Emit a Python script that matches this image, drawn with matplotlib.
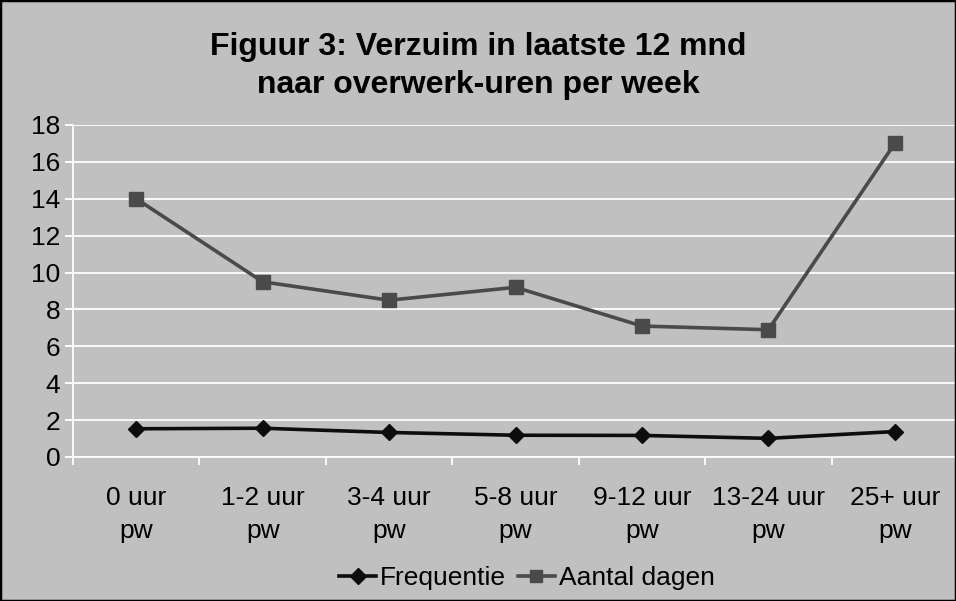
import matplotlib
matplotlib.use("Agg")
import matplotlib.pyplot as plt
from matplotlib.lines import Line2D
from matplotlib.patches import Rectangle

plt.rcParams['font.family'] = ['Liberation Sans', 'DejaVu Sans']

categories = ["0 uur\npw", "1-2 uur\npw", "3-4 uur\npw", "5-8 uur\npw",
              "9-12 uur\npw", "13-24 uur\npw", "25+ uur\npw"]
frequentie = [1.53, 1.56, 1.33, 1.18, 1.17, 1.01, 1.38]
aantal_dagen = [14.0, 9.5, 8.5, 9.2, 7.1, 6.9, 17.0]
yticks = list(range(0, 19, 2))

bg = "#c0c0c0"
W, H = 956, 601
fs = 19
fig = plt.figure(figsize=(W / 100, H / 100), dpi=100, facecolor=bg)
ax = fig.add_axes([73 / W, 1 - 457 / H, 885 / W, (457 - 125) / H], facecolor=bg)

x = list(range(len(categories)))
ax.plot(x, frequentie, color="#0d0d0d", lw=2.6, marker="D", ms=8,
        label="Frequentie", zorder=3, clip_on=False)
ax.plot(x, aantal_dagen, color="#4a4a4a", lw=2.6, marker="s", ms=10,
        label="Aantal dagen", zorder=3, clip_on=False)

ax.set_xlim(-0.5, len(categories) - 0.5)
ax.set_ylim(0, 18)
ax.set_yticks(yticks)
ax.set_yticklabels([str(v) for v in yticks], fontsize=fs)
ax.yaxis.grid(True, color="white", lw=1.3)
ax.set_axisbelow(True)

ax.set_xticks([i - 0.5 for i in range(len(categories) + 1)])
ax.set_xticklabels([])
ax.set_xticks(x, minor=True)
ax.set_xticklabels(categories, minor=True, fontsize=fs, linespacing=1.45)
ax.tick_params(axis="x", which="minor", length=0, pad=21)
ax.tick_params(axis="x", which="major", length=6, color="white", width=1.3, direction="out")
ax.tick_params(axis="y", length=6, color="white", width=1.3, pad=3)

for s in ["top", "right"]:
    ax.spines[s].set_visible(False)
ax.spines["left"].set_color("white")
ax.spines["left"].set_linewidth(1.3)
ax.spines["bottom"].set_color("white")
ax.spines["bottom"].set_linewidth(1.3)

fig.text(0.5, 1 - 66 / H, "Figuur 3: Verzuim in laatste 12 mnd\nnaar overwerk-uren per week",
         ha="center", va="center", fontsize=23, fontweight="bold", linespacing=1.38)

handles = [Line2D([], [], color="#0d0d0d", lw=2.6, marker="D", ms=8),
           Line2D([], [], color="#4a4a4a", lw=2.6, marker="s", ms=9)]
fig.legend(handles, ["Frequentie", "Aantal dagen"], loc="center",
           bbox_to_anchor=(527 / W, 1 - 578 / H), ncol=2, frameon=False,
           fontsize=fs, handlelength=1.4, handletextpad=0.15, columnspacing=0.45)

fig.patches.append(Rectangle((0, 0), 1, 1, transform=fig.transFigure, fill=False,
                             edgecolor="black", lw=2.5, zorder=10))

fig.savefig("out.png", dpi=100, facecolor=bg)
